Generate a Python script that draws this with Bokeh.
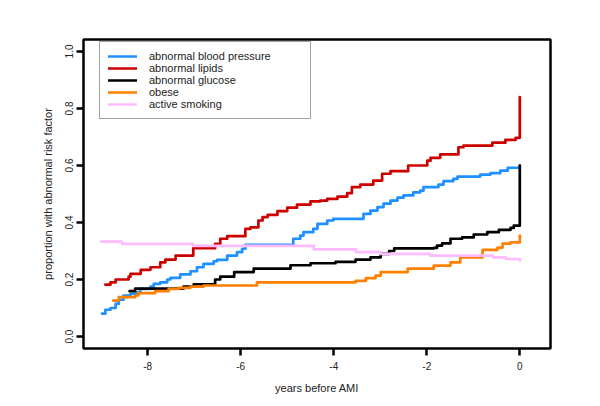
from bokeh.plotting import figure
from bokeh.models import Range1d, FixedTicker, Legend, LegendItem, PrintfTickFormatter
from bokeh.embed import file_html
from bokeh.resources import INLINE

# abnormal blood pressure
bp_x = [-8.98, -8.91, -8.80, -8.69, -8.62, -8.52, -8.37, -8.23, -8.16, -7.94, -7.87, -7.73, -7.58, -7.51,
        -7.30, -7.08, -6.94, -6.80, -6.58, -6.51, -6.29, -6.08, -5.97, -5.90, -4.87, -4.72, -4.65, -4.44,
        -4.35, -4.14, -4.01, -3.36, -3.21, -3.06, -2.93, -2.78, -2.63, -2.50, -2.29, -2.14, -2.07, -1.75,
        -1.64, -1.43, -1.34, -0.85, -0.63, -0.42, -0.26, 0.0]
bp_y = [0.080, 0.094, 0.100, 0.115, 0.129, 0.144, 0.150, 0.155, 0.167, 0.175, 0.185, 0.190, 0.200, 0.206,
        0.218, 0.229, 0.243, 0.255, 0.264, 0.269, 0.284, 0.296, 0.308, 0.322, 0.343, 0.354, 0.366, 0.378,
        0.395, 0.407, 0.413, 0.430, 0.442, 0.454, 0.466, 0.477, 0.487, 0.495, 0.506, 0.512, 0.524, 0.533,
        0.545, 0.553, 0.561, 0.568, 0.573, 0.582, 0.592, 0.600]

# abnormal lipids
lp_x = [-8.91, -8.80, -8.69, -8.41, -8.37, -8.15, -7.94, -7.73, -7.62, -7.40, -7.02, -6.55, -6.44, -6.29,
        -5.90, -5.79, -5.62, -5.53, -5.42, -5.21, -5.00, -4.79, -4.50, -4.29, -4.14, -3.92, -3.71, -3.61,
        -3.43, -3.15, -2.96, -2.78, -2.40, -1.99, -1.92, -1.71, -1.32, -1.21, -0.59, -0.31, -0.09, 0.0]
lp_y = [0.182, 0.190, 0.200, 0.210, 0.220, 0.234, 0.243, 0.260, 0.270, 0.284, 0.310, 0.325, 0.343, 0.352,
        0.378, 0.383, 0.407, 0.419, 0.427, 0.440, 0.452, 0.463, 0.474, 0.477, 0.483, 0.491, 0.503, 0.524,
        0.533, 0.547, 0.571, 0.580, 0.600, 0.617, 0.627, 0.639, 0.664, 0.670, 0.680, 0.690, 0.697, 0.840]

# abnormal glucose
gl_x = [-8.39, -8.27, -7.23, -7.01, -6.55, -6.44, -6.14, -5.72, -4.93, -4.50, -3.96, -3.53, -3.21, -2.99,
        -2.81, -2.70, -1.85, -1.78, -1.67, -1.49, -1.24, -0.99, -0.70, -0.45, -0.20, -0.13, 0.0]
gl_y = [0.159, 0.168, 0.175, 0.183, 0.200, 0.210, 0.226, 0.238, 0.250, 0.257, 0.262, 0.270, 0.278, 0.290,
        0.300, 0.309, 0.311, 0.319, 0.327, 0.343, 0.348, 0.358, 0.366, 0.374, 0.381, 0.389, 0.600]

# obese
ob_x = [-8.74, -8.62, -8.27, -8.20, -7.84, -7.55, -7.33, -7.08, -6.80, -5.65, -3.53, -3.31, -3.10, -2.99,
        -2.41, -1.85, -1.49, -1.28, -0.80, -0.48, -0.37, -0.20, 0.0]
ob_y = [0.126, 0.138, 0.144, 0.152, 0.159, 0.167, 0.171, 0.175, 0.179, 0.190, 0.195, 0.205, 0.214, 0.226,
        0.238, 0.249, 0.260, 0.278, 0.304, 0.312, 0.326, 0.330, 0.354]

# active smoking
sm_x = [-9.0, -8.55, -7.03, -4.43, -3.52, -3.0, -1.93, -0.58, -0.30, 0.0]
sm_y = [0.333, 0.325, 0.318, 0.306, 0.296, 0.290, 0.284, 0.278, 0.272, 0.267]

labels = ["abnormal blood pressure", "abnormal lipids", "abnormal glucose", "obese", "active smoking"]
colors = ["#1E90FF", "#CD0000", "#000000", "#FF8000", "#FFBBFF"]
series = [(bp_x, bp_y), (lp_x, lp_y), (gl_x, gl_y), (ob_x, ob_y), (sm_x, sm_y)]

x_ticks = [-8, -6, -4, -2, 0]
y_ticks = [0.0, 0.2, 0.4, 0.6, 0.8, 1.0]

FONT = "Liberation Sans"

p = figure(width=592, height=398, output_backend="svg", toolbar_location=None,
           x_range=Range1d(-9.38, 0.66), y_range=Range1d(-0.042, 1.042),
           min_border_left=83, min_border_right=42, min_border_top=39, min_border_bottom=50,
           background_fill_color="white", border_fill_color="white")
p.grid.visible = False
p.outline_line_color = "black"
p.outline_line_width = 2.5

items = []
for (xs, ys), c, lab in zip(series, colors, labels):
    r = p.step(xs, ys, mode="after", line_color=c, line_width=2.7, line_join="round", line_cap="round")
    items.append(LegendItem(label=lab, renderers=[r]))

for ax in (p.xaxis[0], p.yaxis[0]):
    ax.axis_line_color = None
    ax.major_tick_line_color = "black"
    ax.major_tick_line_width = 2.5
    ax.major_tick_out = 7
    ax.major_tick_in = 0
    ax.minor_tick_line_color = None
    ax.major_label_text_font = FONT
    ax.major_label_text_font_size = "10px"
    ax.major_label_text_color = "#222222"
    ax.axis_label_text_font = FONT
    ax.axis_label_text_font_size = "11px"
    ax.axis_label_text_font_style = "normal"
    ax.axis_label_text_color = "#222222"

p.xaxis.ticker = FixedTicker(ticks=x_ticks)
p.xaxis.major_label_overrides = {t: str(t) for t in x_ticks}
p.xaxis.major_label_standoff = 6
p.xaxis.axis_label = "years before AMI"
p.xaxis.axis_label_standoff = 9

p.yaxis.ticker = FixedTicker(ticks=y_ticks)
p.yaxis.formatter = PrintfTickFormatter(format="%.1f")
p.yaxis.major_label_orientation = "vertical"
p.yaxis.major_label_standoff = 3
p.yaxis.axis_label = "proportion with abnormal risk factor"
p.yaxis.axis_label_standoff = 9

legend = Legend(items=items, location=(16, 229), orientation="vertical",
                label_text_font=FONT, label_text_font_size="11px", label_text_color="#222222",
                glyph_width=29, glyph_height=12, label_height=12, spacing=0, padding=8,
                label_standoff=12, label_width=153, margin=0,
                border_line_color="#444444", border_line_width=1,
                background_fill_color="white", background_fill_alpha=1.0)
p.add_layout(legend)

open("out.html", "w").write(file_html(p, INLINE))
